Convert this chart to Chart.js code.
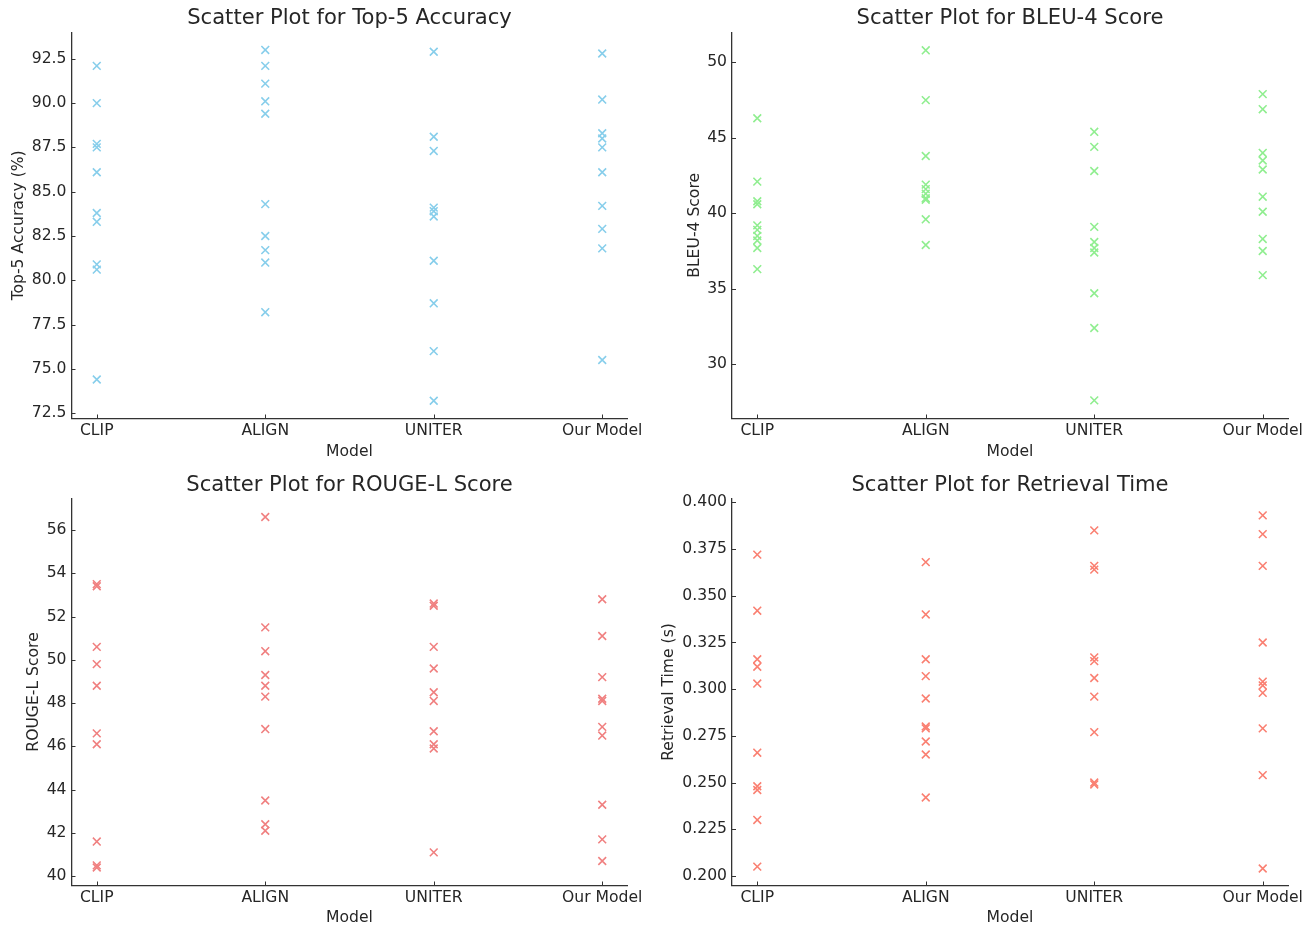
<!DOCTYPE html>
<html>
<head>
<meta charset="utf-8">
<script src="https://cdn.jsdelivr.net/npm/chart.js@4.4.0/dist/chart.umd.min.js"></script>
<style>
    html, body { margin: 0; padding: 0; background: #fff; }
    .cell { position: absolute; }
</style>
</head>
<body>
<div class="cell" style="left:0px;top:0px"><canvas id="chartTop5" width="656" height="464"></canvas></div>
<div class="cell" style="left:656px;top:0px"><canvas id="chartBleu" width="657" height="464"></canvas></div>
<div class="cell" style="left:0px;top:464px"><canvas id="chartRouge" width="656" height="464"></canvas></div>
<div class="cell" style="left:656px;top:464px"><canvas id="chartTime" width="657" height="464"></canvas></div>
<script>
const models = ["CLIP", "ALIGN", "UNITER", "Our Model"];

// one row per model, same order as models
const top5Accuracy = [
    [92.1, 90.0, 87.7, 87.5, 86.1, 83.8, 83.3, 80.9, 80.6, 74.4],
    [93.0, 92.1, 91.1, 90.1, 89.4, 84.3, 82.5, 81.7, 81.0, 78.2],
    [92.9, 88.1, 87.3, 84.1, 83.9, 83.6, 81.1, 78.7, 76.0, 73.2],
    [92.8, 90.2, 88.3, 88.0, 87.5, 86.1, 84.2, 82.9, 81.8, 75.5]
];
const bleu4Score = [
    [46.3, 42.1, 40.8, 40.6, 39.2, 38.9, 38.5, 38.2, 37.7, 36.3],
    [50.8, 47.5, 43.8, 41.9, 41.6, 41.3, 41.0, 40.9, 39.6, 37.9],
    [45.4, 44.4, 42.8, 39.1, 38.1, 37.7, 37.4, 34.7, 32.4, 27.6],
    [47.9, 46.9, 44.0, 43.5, 42.9, 41.1, 40.1, 38.3, 37.5, 35.9]
];
const rougeLScore = [
    [53.5, 53.4, 50.6, 49.8, 48.8, 46.6, 46.1, 41.6, 40.5, 40.4],
    [56.6, 51.5, 50.4, 49.3, 48.8, 48.3, 46.8, 43.5, 42.4, 42.1],
    [52.6, 52.5, 50.6, 49.6, 48.5, 48.1, 46.7, 46.1, 45.9, 41.1],
    [52.8, 51.1, 49.2, 48.2, 48.1, 46.9, 46.5, 43.3, 41.7, 40.7]
];
const retrievalTime = [
    [0.372, 0.342, 0.316, 0.312, 0.303, 0.266, 0.248, 0.246, 0.230, 0.205],
    [0.368, 0.340, 0.316, 0.307, 0.295, 0.280, 0.279, 0.272, 0.265, 0.242],
    [0.385, 0.366, 0.364, 0.317, 0.315, 0.306, 0.296, 0.277, 0.250, 0.249],
    [0.393, 0.383, 0.366, 0.325, 0.304, 0.302, 0.298, 0.279, 0.254, 0.204]
];

// tick labels
const top5Ticks = [72.5, 75.0, 77.5, 80.0, 82.5, 85.0, 87.5, 90.0, 92.5];
const bleuTicks = [30, 35, 40, 45, 50];
const rougeTicks = [40, 42, 44, 46, 48, 50, 52, 54, 56];
const timeTicks = [0.200, 0.225, 0.250, 0.275, 0.300, 0.325, 0.350, 0.375, 0.400];

const TEXT = "#262626";
const AXIS = "#333333";
const LABEL_SIZE = 15.6;
Chart.defaults.font.family = "'DejaVu Sans', sans-serif";
Chart.defaults.color = TEXT;

// ticks pointing into the plot area, like the reference
const inwardTicks = {
    id: "inwardTicks",
    afterDraw(chart) {
        const { ctx, chartArea, scales } = chart;
        ctx.save();
        ctx.strokeStyle = AXIS;
        ctx.lineWidth = 1;
        scales.x.ticks.forEach(t => {
            const px = Math.round(scales.x.getPixelForValue(t.value)) + 0.5;
            ctx.beginPath();
            ctx.moveTo(px, chartArea.bottom);
            ctx.lineTo(px, chartArea.bottom - 4);
            ctx.stroke();
        });
        scales.y.ticks.forEach(t => {
            const py = Math.round(scales.y.getPixelForValue(t.value)) + 0.5;
            ctx.beginPath();
            ctx.moveTo(chartArea.left, py);
            ctx.lineTo(chartArea.left + 4, py);
            ctx.stroke();
        });
        ctx.restore();
    }
};

function makeScatter(id, c) {
    const points = c.values.flatMap((vals, i) => vals.map(v => ({ x: i, y: v })));
    new Chart(document.getElementById(id), {
        type: "scatter",
        data: {
            datasets: [{
                data: points,
                pointStyle: "crossRot",
                radius: 5.5,
                borderWidth: 1.6,
                borderColor: c.color,
                backgroundColor: c.color
            }]
        },
        options: {
            responsive: false,
            animation: false,
            layout: { padding: { left: 0, right: c.padRight, top: 0, bottom: 0 } },
            plugins: {
                legend: { display: false },
                tooltip: { enabled: false },
                title: {
                    display: true,
                    fullSize: false, // centre over the plot area
                    text: c.title,
                    color: TEXT,
                    font: { size: 21.1, weight: "normal" },
                    padding: { top: c.titleTop, bottom: c.titleBottom }
                }
            },
            scales: {
                x: {
                    type: "linear",
                    min: -0.15,
                    max: 3.15,
                    grid: { display: false, drawTicks: false },
                    border: { color: AXIS, width: 1.3 },
                    afterBuildTicks: s => { s.ticks = models.map((m, i) => ({ value: i })); },
                    afterFit: s => { s.height = c.xHeight; },
                    ticks: {
                        autoSkip: false,
                        maxRotation: 0,
                        padding: 3,
                        font: { size: LABEL_SIZE },
                        callback: v => models[v]
                    },
                    title: {
                        display: true,
                        text: "Model",
                        font: { size: LABEL_SIZE },
                        padding: { top: 0, bottom: c.xTitleBottom }
                    }
                },
                y: {
                    min: c.yMin,
                    max: c.yMax,
                    grid: { display: false, drawTicks: false },
                    border: { color: AXIS, width: 1.3 },
                    afterBuildTicks: s => { s.ticks = c.ticks.map(v => ({ value: v })); },
                    afterFit: s => { s.width = c.yWidth; },
                    ticks: {
                        padding: 5,
                        font: { size: LABEL_SIZE },
                        callback: v => v.toFixed(c.decimals)
                    },
                    title: {
                        display: true,
                        text: c.yLabel,
                        font: { size: LABEL_SIZE },
                        padding: { top: c.yTitlePad, bottom: 0 }
                    }
                }
            }
        },
        plugins: [inwardTicks]
    });
}

makeScatter("chartTop5", {
    title: "Scatter Plot for Top-5 Accuracy", yLabel: "Top-5 Accuracy (%)",
    values: top5Accuracy, ticks: top5Ticks, decimals: 1, color: "#87CEEB",
    yMin: 72.2, yMax: 94.0, yWidth: 71.5, yTitlePad: 9.5, padRight: 28.5,
    titleTop: 6, titleBottom: 0.9, xHeight: 45.5, xTitleBottom: 3.1
});
makeScatter("chartBleu", {
    title: "Scatter Plot for BLEU-4 Score", yLabel: "BLEU-4 Score",
    values: bleu4Score, ticks: bleuTicks, decimals: 0, color: "#90EE90",
    yMin: 26.4, yMax: 52.0, yWidth: 76, yTitlePad: 29.5, padRight: 25,
    titleTop: 6, titleBottom: 0.9, xHeight: 45.5, xTitleBottom: 3.1
});
makeScatter("chartRouge", {
    title: "Scatter Plot for ROUGE-L Score", yLabel: "ROUGE-L Score",
    values: rougeLScore, ticks: rougeTicks, decimals: 0, color: "#F08080",
    yMin: 39.57, yMax: 57.46, yWidth: 71.5, yTitlePad: 24.5, padRight: 28.5,
    titleTop: 8.5, titleBottom: 0.6, xHeight: 42.5, xTitleBottom: 0.3
});
makeScatter("chartTime", {
    title: "Scatter Plot for Retrieval Time", yLabel: "Retrieval Time (s)",
    values: retrievalTime, ticks: timeTicks, decimals: 3, color: "#FA8072",
    yMin: 0.1949, yMax: 0.4021, yWidth: 76, yTitlePad: 3.5, padRight: 25,
    titleTop: 8.5, titleBottom: 0.6, xHeight: 42.5, xTitleBottom: 0.3
});
</script>
</body>
</html>
